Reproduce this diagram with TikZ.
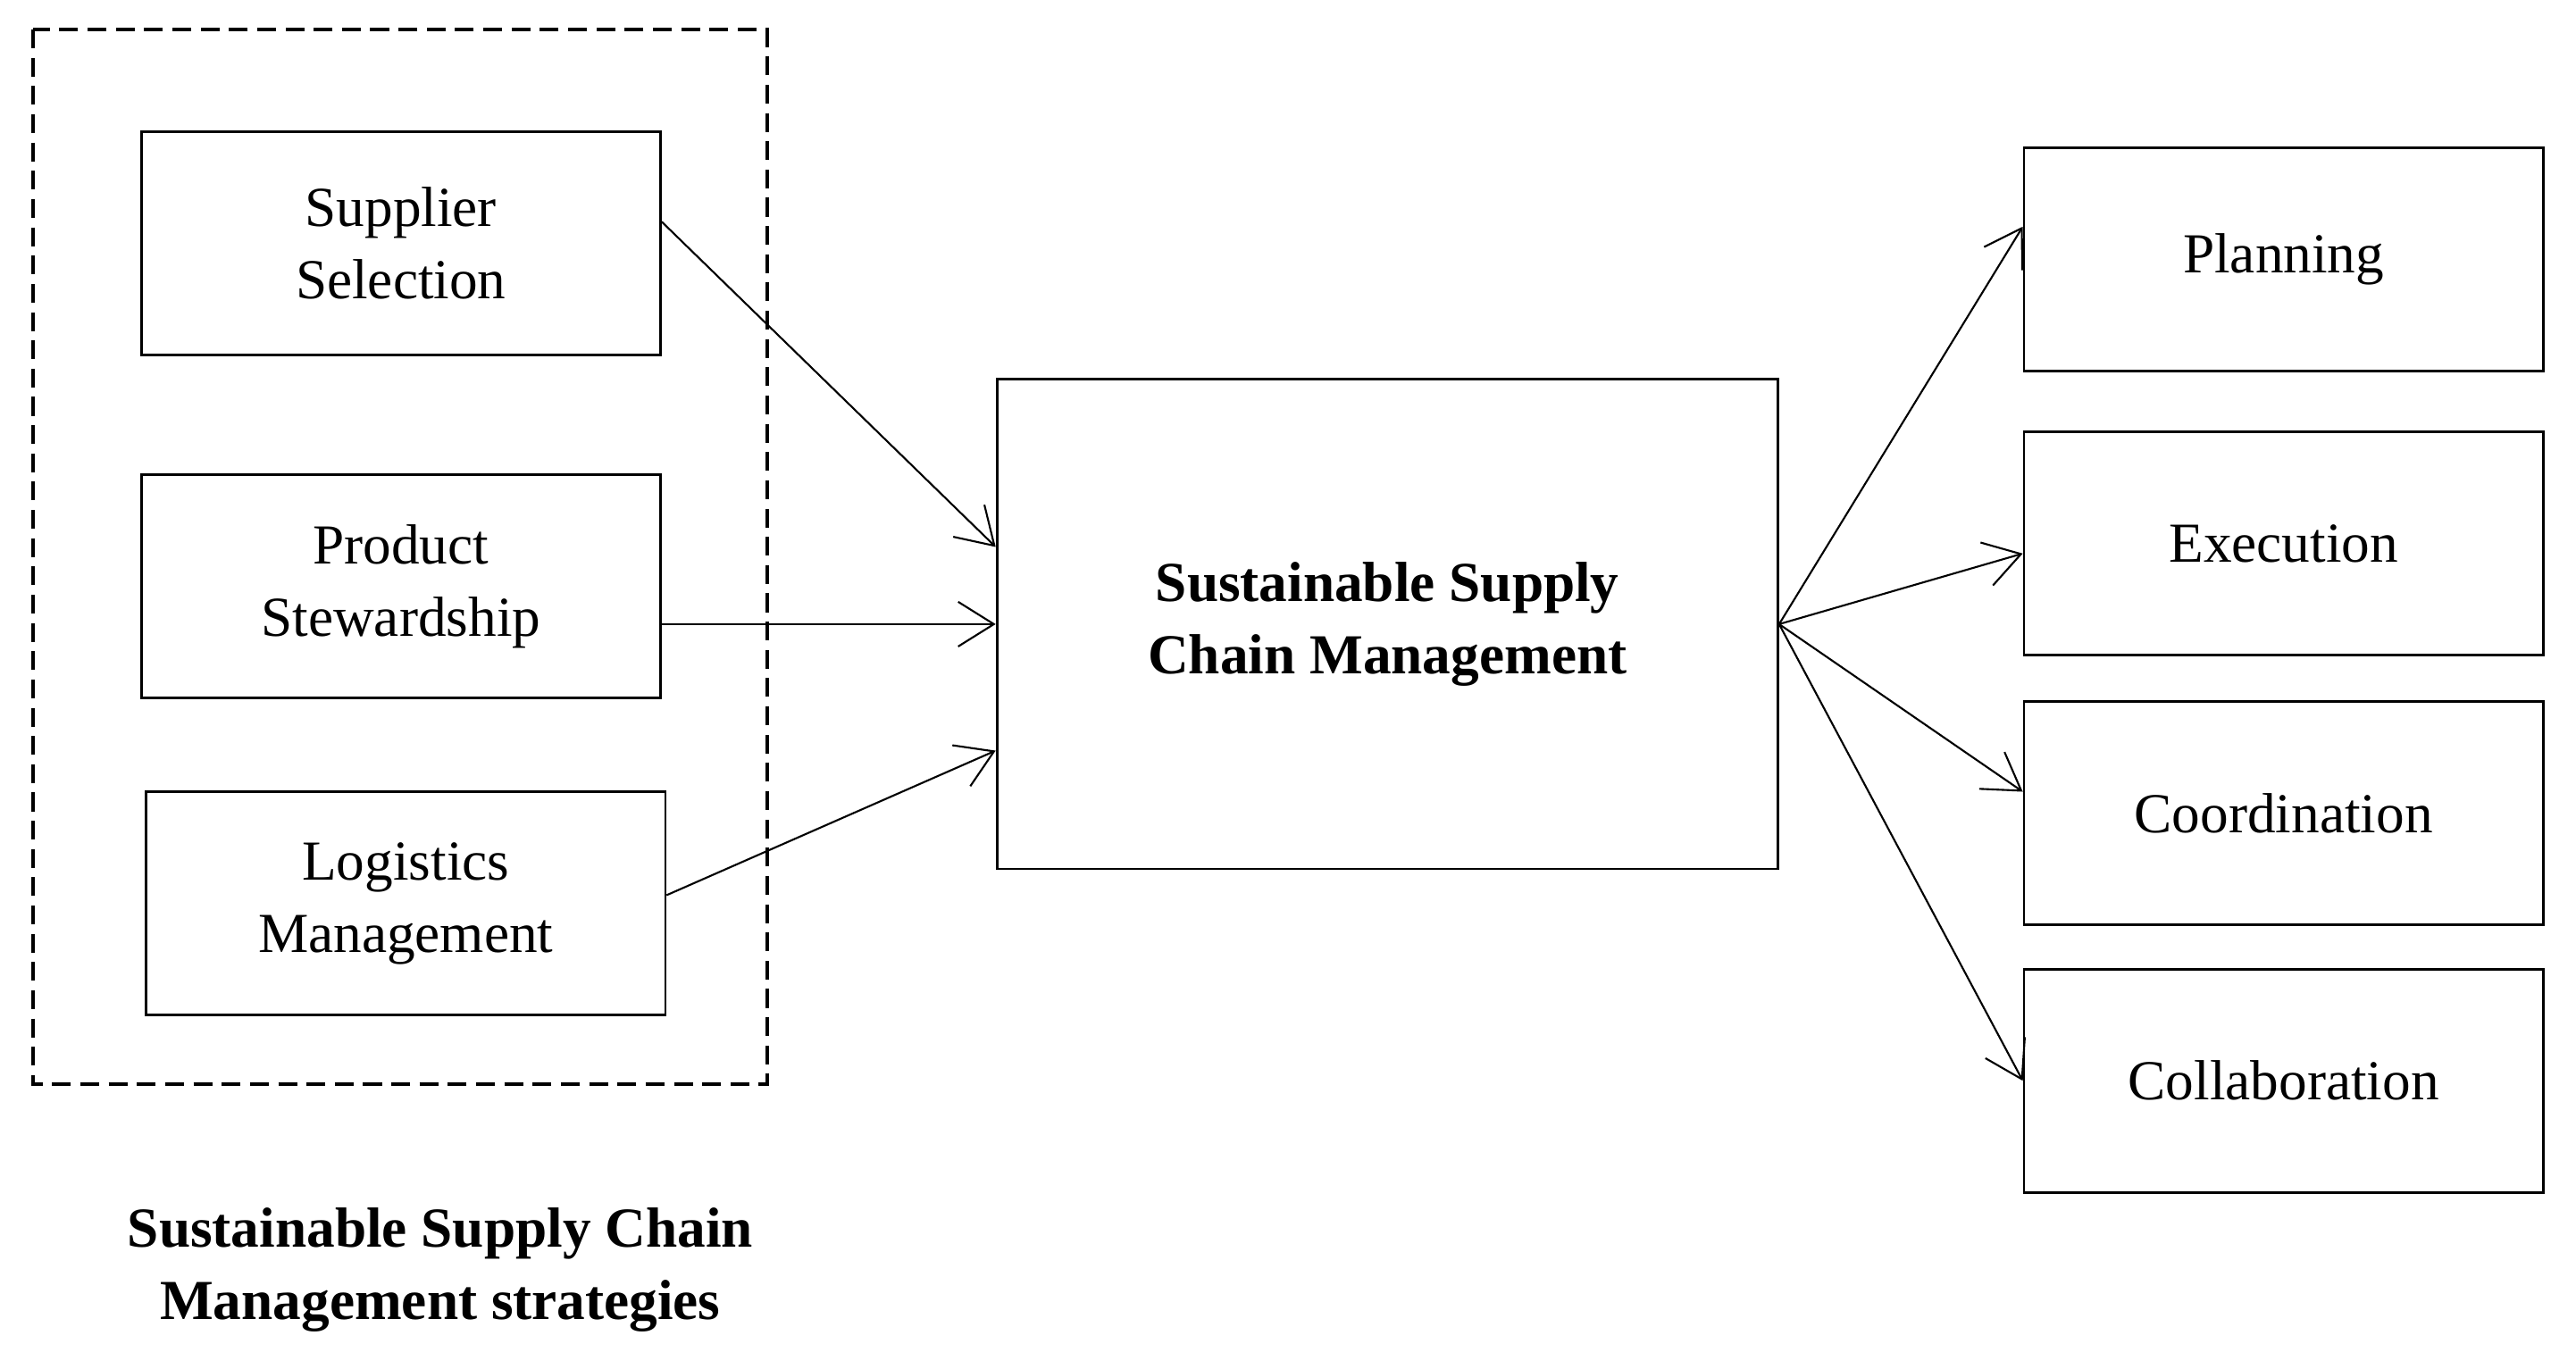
\documentclass[tikz,border=0pt]{standalone}
\usepackage{fontspec}
\setmainfont{Liberation Serif}
\usetikzlibrary{arrows.meta,calc}
\tikzset{%
  box/.style    = {shape=rectangle, draw, thick, align=center,%
                   minimum width=5.81cm, minimum height=2.5cm,%
                   font=\fontsize{18}{23}\selectfont},%
  hub/.style    = {box, minimum width=8.74cm, minimum height=5.48cm,%
                   font=\fontsize{18}{23}\selectfont\bfseries},%
  link/.style   = {-{Straight Barb[length=4mm,width=5mm]}, semithick}%
}
\begin{document}
\begin{tikzpicture}[x=0.01839cm, y=-0.01839cm]
	\useasboundingbox (0,0) rectangle (1568,833);
	% strategies
	\node [box] (sup) at (244,148) {Supplier\\Selection};
	\node [box] (stw) at (244,357) {Product\\Stewardship};
	\node [box] (log) at (247,550) {Logistics\\Management};
	\draw [very thick, dash pattern=on 6pt off 3pt] (20,18) rectangle (467,660);
	\node [font=\fontsize{18}{23}\selectfont\bfseries, align=center] (cap) at (268,773)
		{Sustainable Supply Chain\\Management strategies};
	% centre
	\node [hub] (ssc) at (844.5,380) {Sustainable Supply\\Chain Management};
	% outcomes
	\node [box] (pln) at (1390,158) {Planning};
	\node [box] (exe) at (1390,331) {Execution};
	\node [box] (crd) at (1390,495) {Coordination};
	\node [box] (col) at (1390,658) {Collaboration};
	% arrows
	\draw [link] ($(sup.east)+(0,-13)$) -- ($(ssc.west)+(0,-47)$);
	\draw [link] ($(stw.east)+(0,23)$) -- (ssc.west);
	\draw [link] ($(log.east)+(0,-5)$) -- ($(ssc.west)+(0,77)$);
	\draw [link] (ssc.east) -- ($(pln.west)+(0,-20)$);
	\draw [link] (ssc.east) -- ($(exe.west)+(0,6)$);
	\draw [link] (ssc.east) -- ($(crd.west)+(0,-13)$);
	\draw [link] (ssc.east) -- (col.west);
\end{tikzpicture}
\end{document}
